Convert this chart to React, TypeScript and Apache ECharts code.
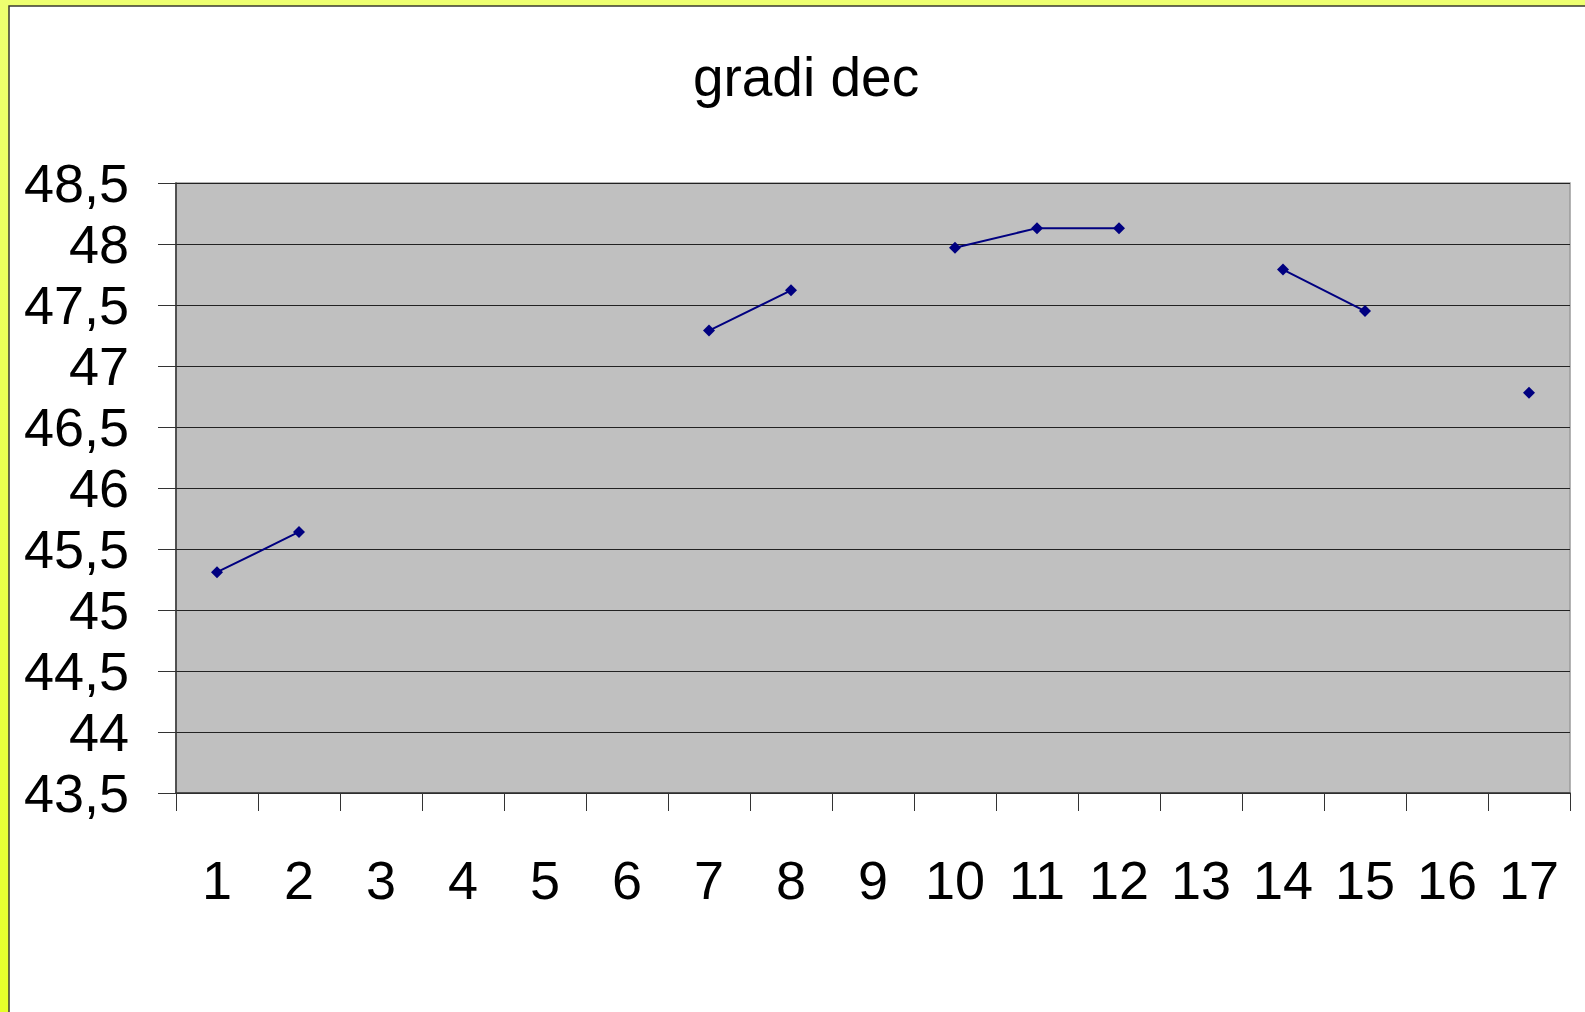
import React, { useEffect, useRef } from "react";
import * as echarts from "echarts";

const categories = ["1", "2", "3", "4", "5", "6", "7", "8", "9", "10", "11", "12", "13", "14", "15", "16", "17"];
const values: (number | null)[] = [45.31, 45.64, null, null, null, null, 47.29, 47.62, null, 47.97, 48.13, 48.13, null, 47.79, 47.45, null, 46.78];
const yMin = 43.5;
const yMax = 48.5;
const yStep = 0.5;
const titleText = "gradi dec";

const FONT = "'Liberation Sans', Arial, sans-serif";

export default function App() {
  const ref = useRef<HTMLDivElement>(null);
  useEffect(() => {
    document.body.style.margin = "0";
    const chart = echarts.init(ref.current!, undefined, { renderer: "svg" });
    chart.setOption({
      animation: false,
      backgroundColor: new echarts.graphic.LinearGradient(0, 0, 0, 1, [
        { offset: 0, color: "#EEFF70" },
        { offset: 1, color: "#E6FF2A" },
      ]),
      graphic: [
        {
          type: "rect",
          z: -10,
          silent: true,
          shape: { x: 9, y: 6, width: 1700, height: 1200 },
          style: { fill: "#FFFFFF", stroke: "#3a3a30", lineWidth: 1.5 },
        },
      ],
      title: {
        text: titleText,
        left: 801,
        textAlign: "center",
        top: 44,
        textStyle: { fontFamily: FONT, fontSize: 55, fontWeight: "normal", color: "#000" },
      },
      grid: {
        left: 176,
        top: 183,
        right: 15,
        bottom: 219,
        show: true,
        backgroundColor: "#C0C0C0",
        borderColor: "#9a9a9a",
        borderWidth: 1.5,
      },
      xAxis: {
        type: "category",
        data: categories,
        boundaryGap: true,
        axisLine: { lineStyle: { color: "#333", width: 1.5 } },
        axisTick: { show: true, length: 18, lineStyle: { color: "#333", width: 1 } },
        axisLabel: { fontFamily: FONT, fontSize: 54, color: "#000", margin: 60, interval: 0 },
        splitLine: { show: false },
      },
      yAxis: {
        type: "value",
        min: yMin,
        max: yMax,
        interval: yStep,
        axisLine: { show: true, lineStyle: { color: "#333", width: 1.5 } },
        axisTick: { show: true, length: 18, lineStyle: { color: "#333", width: 1 } },
        axisLabel: {
          fontFamily: FONT,
          fontSize: 54,
          color: "#000",
          margin: 47,
          formatter: (v: number) => String(v).replace(".", ","),
        },
        splitLine: { show: true, lineStyle: { color: "#222", width: 1 } },
      },
      series: [
        {
          type: "line",
          data: values,
          connectNulls: false,
          symbol: "diamond",
          symbolSize: 12,
          showSymbol: true,
          lineStyle: { color: "#000080", width: 2 },
          itemStyle: { color: "#000080" },
        },
      ],
    });
    return () => chart.dispose();
  }, []);
  return <div ref={ref} style={{ position: "fixed", left: 0, top: 0, width: 1585, height: 1012 }} />;
}
